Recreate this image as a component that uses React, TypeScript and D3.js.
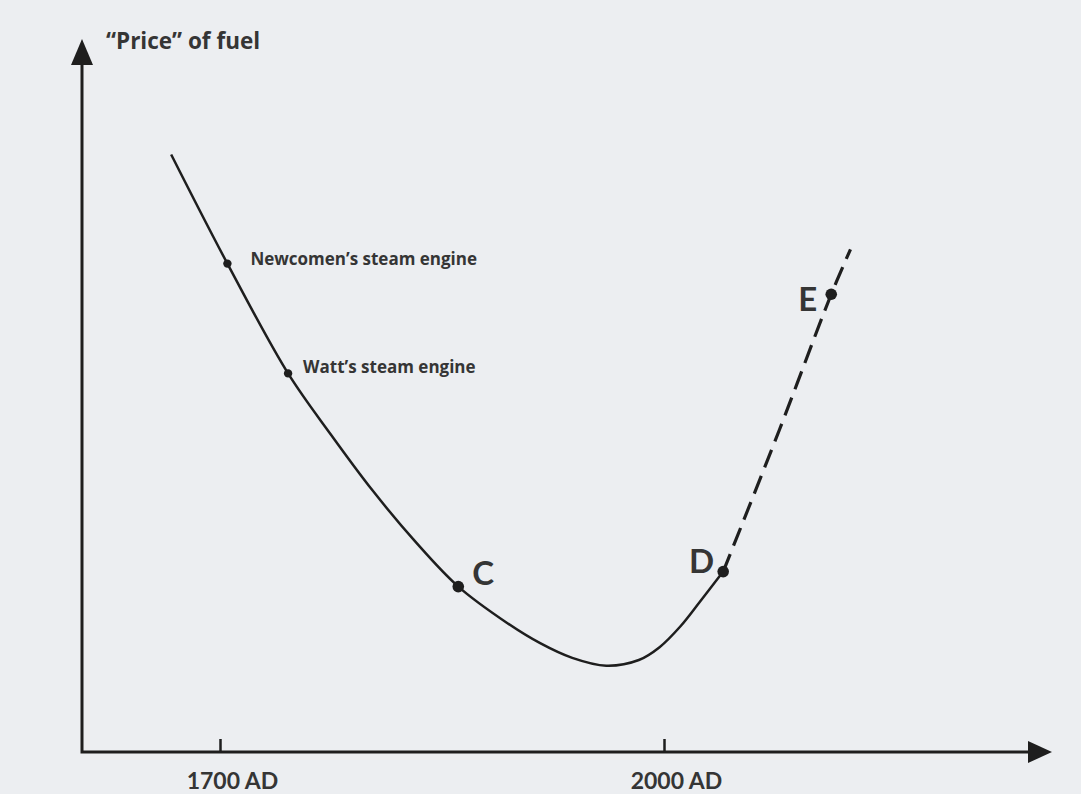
import React, { useEffect, useRef } from 'react';
import * as d3 from 'd3';

// solid part of the "price" curve
const solidYears = [1667, 1705, 1746, 1775, 1803, 1832, 1861, 1894, 1916, 1938, 1961, 1983, 1997, 2011, 2024, 2040];
const solidPrices = [83.8, 68.5, 53.1, 44.5, 36.7, 29.5, 23.2, 18.1, 15.3, 13.2, 12.1, 12.9, 14.7, 17.6, 21.0, 25.3];

// projected (dashed) part
const dashYears = [2040, 2078, 2113, 2126];
const dashPrices = [25.3, 45.2, 64.2, 70.5];

const tickYears = [1700, 2000];
const tickLabels = ['1700 AD', '2000 AD'];

const eventNames = ['Newcomen\u2019s steam engine', 'Watt\u2019s steam engine'];
const eventYears = [1705, 1746];
const eventPrices = [68.5, 53.1];

const pointNames = ['C', 'D', 'E'];
const pointYears = [1861, 2040, 2113];
const pointPrices = [23.2, 25.3, 64.2];

const W = 1081, H = 794;
const FONT = 'Lato, "Open Sans", sans-serif';
const FONT_WIDE = '"Open Sans", Lato, sans-serif';

const App = () => {
  const svgRef = useRef<SVGSVGElement>(null);

  useEffect(() => {
    const svg = d3.select(svgRef.current);
    svg.selectAll('*').remove();

    const left = 82, right = 1052, top = 39, bottom = 752;
    const x = d3.scaleLinear().domain([1700, 2000]).range([220, 664]);
    const y = d3.scaleLinear().domain([0, 100]).range([bottom, top]);
    const ink = '#1e1e1e';
    const textCol = '#353535';

    svg.append('rect').attr('width', W).attr('height', H).attr('fill', '#eceef1');

    // axes
    svg.append('path')
      .attr('d', `M${left},${top + 20}V${bottom}H${right - 20}`)
      .attr('fill', 'none').attr('stroke', ink).attr('stroke-width', 3);
    svg.append('path')
      .attr('d', `M${left},${top}L${left - 11},${top + 26}L${left + 11},${top + 26}Z`)
      .attr('fill', ink);
    svg.append('path')
      .attr('d', `M${right},${bottom}L${right - 24},${bottom - 11}L${right - 24},${bottom + 11}Z`)
      .attr('fill', ink);

    const xAxis = svg.append('g')
      .attr('transform', `translate(0,${bottom})`)
      .call(d3.axisBottom(x)
        .tickValues(tickYears)
        .tickFormat((d, i) => tickLabels[i])
        .tickSizeInner(-13)
        .tickSizeOuter(0)
        .tickPadding(21));
    xAxis.select('.domain').remove();
    xAxis.selectAll('line').attr('stroke', ink).attr('stroke-width', 2.5);
    xAxis.selectAll('text')
      .attr('dx', 12)
      .attr('fill', textCol)
      .style('font-family', FONT)
      .style('font-weight', 700)
      .style('font-size', '23px');

    svg.append('text')
      .attr('x', 106).attr('y', 49)
      .attr('fill', textCol)
      .style('font-family', FONT_WIDE).style('font-weight', 700).style('font-size', '22.5px')
      .text('\u201cPrice\u201d of fuel');

    // curve
    const line = d3.line<number>()
      .x(d => x(d))
      .curve(d3.curveCatmullRom.alpha(0.5));

    svg.append('path')
      .attr('d', line.y((d, i) => y(solidPrices[i]))(solidYears))
      .attr('fill', 'none').attr('stroke', ink).attr('stroke-width', 2.5);

    svg.append('path')
      .attr('d', line.y((d, i) => y(dashPrices[i]))(dashYears))
      .attr('fill', 'none').attr('stroke', ink).attr('stroke-width', 3.2)
      .attr('stroke-dasharray', '19 9');

    // event markers
    eventYears.forEach((yr, i) => {
      svg.append('circle')
        .attr('cx', x(yr)).attr('cy', y(eventPrices[i])).attr('r', 4.2).attr('fill', ink);
    });
    svg.append('text')
      .attr('x', x(eventYears[0]) + 23).attr('y', y(eventPrices[0]) + 1)
      .attr('fill', textCol)
      .style('font-family', FONT_WIDE).style('font-weight', 700).style('font-size', '17px')
      .text(eventNames[0]);
    svg.append('text')
      .attr('x', x(eventYears[1]) + 15).attr('y', y(eventPrices[1]))
      .attr('fill', textCol)
      .style('font-family', FONT_WIDE).style('font-weight', 700).style('font-size', '17px')
      .text(eventNames[1]);

    // lettered points
    const offsets = [[14, -2, 'start'], [-9, 1, 'end'], [-14, 17, 'end']];
    pointYears.forEach((yr, i) => {
      const cx = x(yr), cy = y(pointPrices[i]);
      svg.append('circle').attr('cx', cx).attr('cy', cy).attr('r', 5.8).attr('fill', ink);
      svg.append('text')
        .attr('x', cx + (offsets[i][0] as number)).attr('y', cy + (offsets[i][1] as number))
        .attr('text-anchor', offsets[i][2] as string)
        .attr('fill', textCol)
        .style('font-family', FONT).style('font-weight', 700).style('font-size', '33px')
        .text(pointNames[i]);
    });
  }, []);

  return (
    <svg ref={svgRef} width={W} height={H}
      style={{ position: 'absolute', left: 0, top: 0, display: 'block' }} />
  );
};

export default App;
